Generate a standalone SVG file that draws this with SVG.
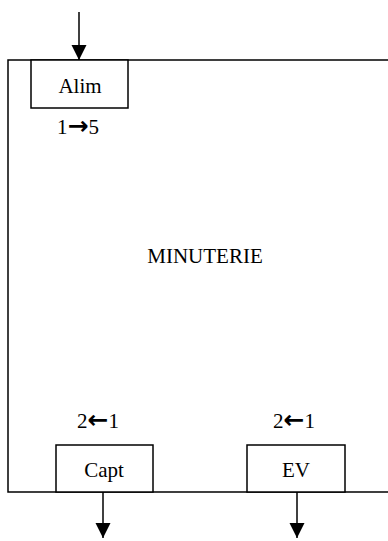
<svg xmlns="http://www.w3.org/2000/svg" width="388" height="541" viewBox="0 0 388 541">
  <style>
    .frame { fill: none; stroke: #000; stroke-width: 1.5; }
    .box { fill: #fff; stroke: #000; stroke-width: 1.5; }
    .wire { fill: none; stroke: #000; stroke-width: 1.5; }
    text { font-family: "Liberation Serif", "Times New Roman", serif; font-size: 21px; fill: #000; text-anchor: middle; }
    .arr { font-family: "DejaVu Sans", sans-serif; font-weight: bold; font-size: 25px; }
  </style>
  <defs>
    <marker id="arrowhead" markerUnits="userSpaceOnUse" markerWidth="16" markerHeight="16" refX="15" refY="8" orient="auto">
      <path d="M0,0.5 L15,8 L0,15.5 Z" fill="#000"/>
    </marker>
  </defs>
  <rect width="388" height="541" fill="#fff"/>

  <!-- timer block outline, open on the right -->
  <g id="minuterie">
    <path class="frame" d="M388,60 H8 V492 H388"/>
    <text x="205" y="263">MINUTERIE</text>
  </g>

  <g id="alim">
    <rect class="box" x="31" y="60" width="97" height="48"/>
    <text x="80" y="93">Alim</text>
    <text x="78" y="134">1<tspan class="arr">→</tspan>5</text>
  </g>

  <g id="capt">
    <rect class="box" x="56" y="445" width="97" height="47"/>
    <text x="104" y="477">Capt</text>
    <text x="98" y="428">2<tspan class="arr">←</tspan>1</text>
  </g>

  <g id="ev">
    <rect class="box" x="247" y="445" width="98" height="47"/>
    <text x="296" y="477">EV</text>
    <text x="294" y="428">2<tspan class="arr">←</tspan>1</text>
  </g>

  <g id="connectors">
    <line class="wire" x1="79" y1="12" x2="79" y2="60" marker-end="url(#arrowhead)"/>
    <line class="wire" x1="103" y1="492" x2="103" y2="538" marker-end="url(#arrowhead)"/>
    <line class="wire" x1="297" y1="492" x2="297" y2="538" marker-end="url(#arrowhead)"/>
  </g>
</svg>
